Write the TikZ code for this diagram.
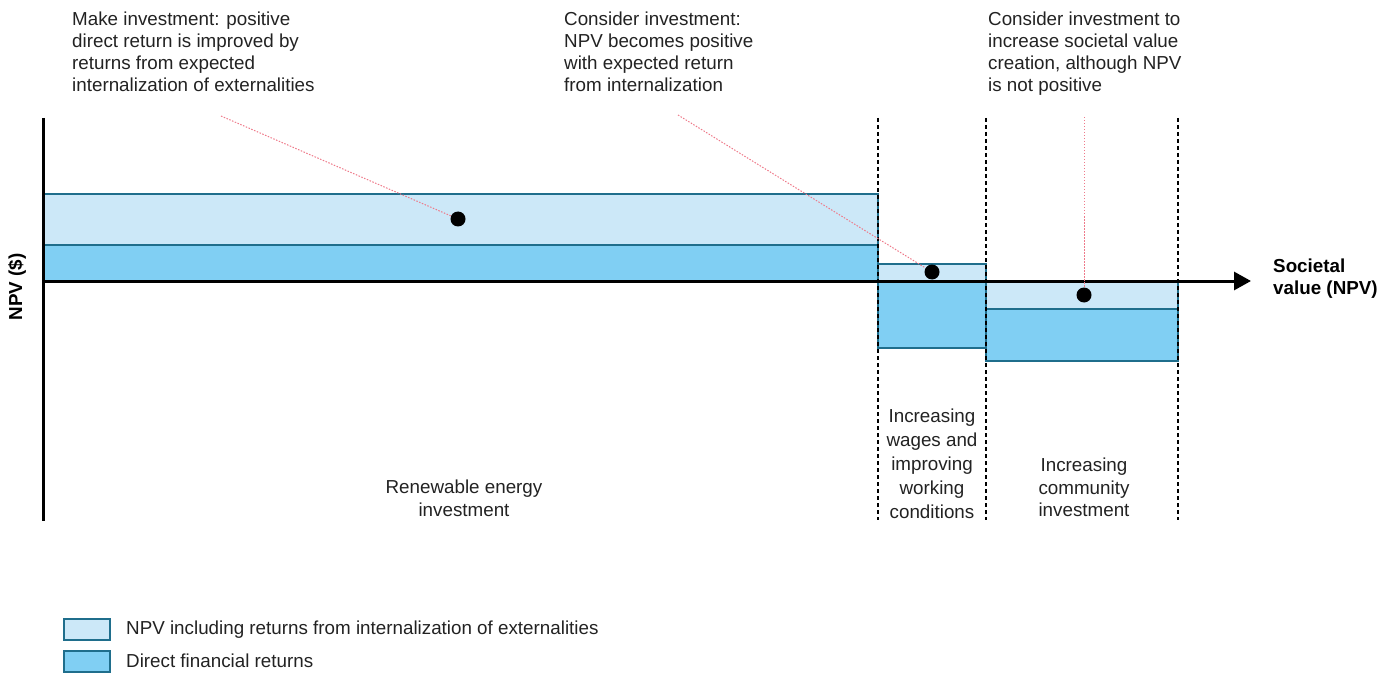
\documentclass[tikz,border=0pt]{standalone}
\usepackage{fontspec}
\setmainfont{Liberation Sans}
\usetikzlibrary{arrows.meta}
\definecolor{lightb}{HTML}{CCE8F8}
\definecolor{darkb}{HTML}{80CFF3}
\definecolor{edgeb}{HTML}{1F6E8C}
\definecolor{pinkl}{HTML}{EE7A8A}
\definecolor{txt}{HTML}{222222}
\tikzset{
  lightbar/.style={fill=lightb,draw=edgeb,line width=1.2pt},
  darkbar/.style={fill=darkb,draw=edgeb,line width=1.2pt},
  divider/.style={draw=black,line width=1.2pt,dash pattern=on 4pt off 3pt},
  axisline/.style={draw=black,line width=3pt},
  callout/.style={draw=pinkl,line width=1pt,dash pattern=on 1.5pt off 1.5pt},
  dot/.style={circle,fill=black,minimum size=15pt,inner sep=0pt},
  note/.style={font=\fontsize{18.8}{22}\selectfont,text=txt,align=left,anchor=north west,inner sep=0pt},
  catlabel/.style={font=\fontsize{18.8}{22.5}\selectfont,text=txt,align=center,anchor=north,inner sep=0pt},
  axlabel/.style={font=\bfseries\fontsize{18.8}{22}\selectfont,text=black,inner sep=0pt},
  legbox/.style={fill=#1,draw=edgeb,line width=1.2pt}
}
\begin{document}
\begin{tikzpicture}[x=1pt,y=-1pt]
\useasboundingbox (0,0) rectangle (1392,679);
% bars
\draw[lightbar] (43,194) rectangle (878,245);
\draw[darkbar] (43,245) rectangle (878,281);
\draw[lightbar] (878,264) rectangle (986,281);
\draw[darkbar] (878,281) rectangle (986,348);
\draw[lightbar] (986,281) rectangle (1178,309);
\draw[darkbar] (986,309) rectangle (1178,361);
% dividers
\draw[divider] (878,118) -- (878,520);
\draw[divider] (986,118) -- (986,520);
\draw[divider] (1178,118) -- (1178,520);
% axes
\draw[axisline] (43,118) -- (43,521);
\coordinate (xs) at (43,281);
\coordinate (xe) at (1251,281);
\draw[axisline,-{Triangle[length=17pt,width=18pt]}] (xs) -- (xe);
% dots
\node[dot] (d1) at (458,219) {};
\node[dot] (d2) at (932,272) {};
\node[dot] (d3) at (1084,295) {};
\coordinate (c1) at (221,116);
\coordinate (c2) at (678,115);
\coordinate (c3) at (1084,117);
\draw[callout] (c1) -- (d1);
\draw[callout] (c2) -- (d2);
\draw[callout] (c3) -- (d3);
% notes
\node[note] (n1) at (72,11.5) {Make investment: positive\\direct return is improved by\\returns from expected\\internalization of externalities};
\node[note] (n2) at (564,11.5) {Consider investment:\\NPV becomes positive\\with expected return\\from internalization};
\node[note] (n3) at (988,11.5) {Consider investment to\\increase societal value\\creation, although NPV\\is not positive};
% category labels
\node[catlabel] (l1) at (464,480) {Renewable energy\\investment};
\node[catlabel,font=\fontsize{18.8}{24}\selectfont] (l2) at (932,409) {Increasing\\wages and\\improving\\working\\conditions};
\node[catlabel] (l3) at (1084,458) {Increasing\\community\\investment};
% axis labels
\node[axlabel,rotate=90] (ylab) at (17,287) {NPV (\$)};
\node[axlabel,align=left,anchor=north west] (xlab) at (1273,259) {Societal\\value (NPV)};
% legend
\draw[legbox=lightb] (64,619) rectangle (110,640);
\draw[legbox=darkb] (64,651) rectangle (110,672);
\node[note,anchor=west] (lg1) at (126,630) {NPV including returns from internalization of externalities};
\node[note,anchor=west] (lg2) at (126,661) {Direct financial returns};
\end{tikzpicture}
\end{document}
